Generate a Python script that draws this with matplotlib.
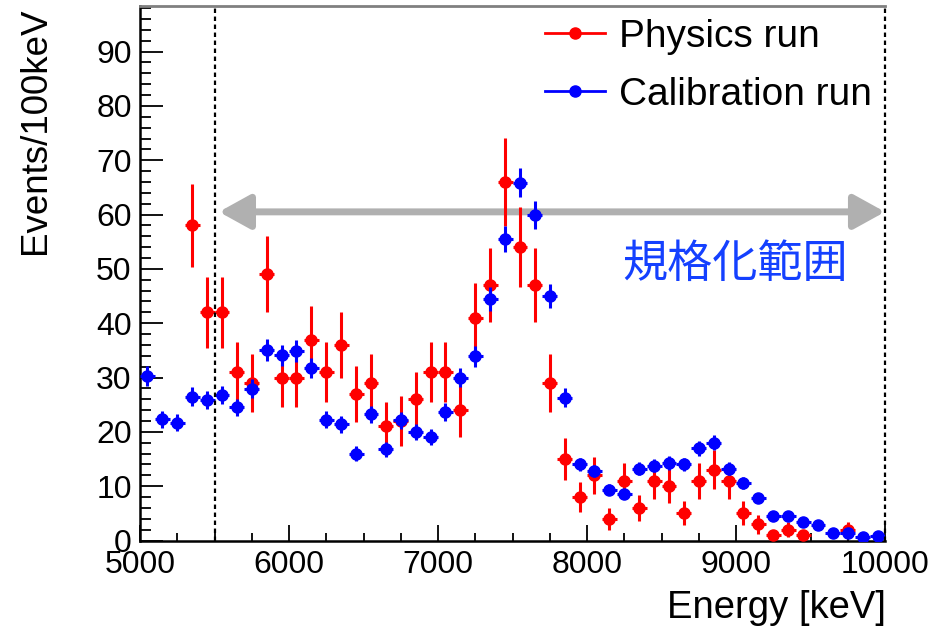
import numpy as np
import matplotlib.pyplot as plt
from matplotlib.lines import Line2D
from matplotlib.ticker import MultipleLocator

plt.rcParams['font.family'] = ['Liberation Sans', 'Noto Sans CJK JP']

# physics run: raw counts per 100 keV bin (bin centres in keV)
phys_e = [5350, 5450, 5550, 5650, 5750, 5850, 5950, 6050, 6150, 6250,
          6350, 6450, 6550, 6650, 6750, 6850, 6950, 7050, 7150, 7250,
          7350, 7450, 7550, 7650, 7750, 7850, 7950, 8050, 8150, 8250,
          8350, 8450, 8550, 8650, 8750, 8850, 8950, 9050, 9150, 9250,
          9350, 9450, 9750]
phys_n = [58, 42, 42, 31, 29, 49, 30, 30, 37, 31,
          36, 27, 29, 21, 22, 26, 31, 31, 24, 41,
          47, 66, 54, 47, 29, 15, 8, 12, 4, 11,
          6, 11, 10, 5, 11, 13, 11, 5, 3, 1,
          2, 1, 2]

# calibration run, scaled to the physics run
calib_e = [5050, 5150, 5250, 5350, 5450, 5550, 5650, 5750, 5850, 5950,
           6050, 6150, 6250, 6350, 6450, 6550, 6650, 6750, 6850, 6950,
           7050, 7150, 7250, 7350, 7450, 7550, 7650, 7750, 7850, 7950,
           8050, 8150, 8250, 8350, 8450, 8550, 8650, 8750, 8850, 8950,
           9050, 9150, 9250, 9350, 9450, 9550, 9650, 9750, 9850, 9950]
calib_n = [30.3, 22.3, 21.7, 26.5, 25.9, 26.8, 24.5, 27.9, 35.1, 34.1,
           34.9, 31.7, 22.2, 21.4, 16.0, 23.2, 16.8, 22.1, 20.0, 19.1,
           23.7, 30.0, 33.9, 44.5, 55.5, 65.9, 60.0, 45.0, 26.3, 14.0,
           12.8, 9.3, 8.6, 13.2, 13.8, 14.3, 14.0, 17.0, 18.0, 13.2,
           10.6, 7.9, 4.6, 4.5, 3.4, 2.8, 1.4, 1.4, 0.7, 0.9]
calib_scale = 0.11

bin_width = 100
norm_lo, norm_hi = 5500, 10000

phys_err = np.sqrt(phys_n)
calib_err = np.sqrt(np.array(calib_n) * calib_scale)

fig = plt.figure(figsize=(9.51, 6.28), dpi=100)
ax = fig.add_axes([140/951, 1 - 540.5/628, 745/951, 534.5/628])

ax.errorbar(phys_e, phys_n, xerr=bin_width/2, yerr=phys_err, fmt='o', color='red',
            ms=8, elinewidth=2.2, capsize=0, zorder=3)
ax.errorbar(calib_e, calib_n, xerr=bin_width/2, yerr=calib_err, fmt='o', color='blue',
            ms=8, elinewidth=2.2, capsize=0, zorder=4)

# normalisation range
for xv in [norm_lo, norm_hi]:
    ax.axvline(xv, color='black', lw=1.6, ls=(0, (2, 1.6)), zorder=5, clip_on=False)
ax.annotate('', xy=(norm_hi, 60.5), xytext=(5530, 60.5),
            arrowprops=dict(arrowstyle='<|-|>,head_length=1.9,head_width=1.05',
                            mutation_scale=10, lw=5, color='#b0b0b0',
                            shrinkA=0, shrinkB=0), zorder=2)
ax.text(8993, 50.9, '規格化範囲', color='#1440ff', fontsize=32.5,
        family=['Noto Sans CJK JP'], ha='center', va='center')

ax.set_xlim(5000, 10000)
ax.set_ylim(0, 98.4)
ax.xaxis.set_major_locator(MultipleLocator(1000))
ax.xaxis.set_minor_locator(MultipleLocator(250))
ax.yaxis.set_major_locator(MultipleLocator(10))
ax.yaxis.set_minor_locator(MultipleLocator(2))
ax.tick_params(which='both', direction='in', labelsize=23, width=1.3)
ax.tick_params(axis='x', which='major', length=11.5, pad=7)
ax.tick_params(axis='x', which='minor', length=6)
ax.tick_params(axis='y', which='major', length=16.5, pad=6)
ax.tick_params(axis='y', which='minor', length=8)
for s in ['left', 'bottom']:
    ax.spines[s].set_linewidth(1.8)
ax.spines['right'].set_visible(False)
ax.spines['top'].set_color('#808080')
ax.spines['top'].set_linewidth(2)

fig.text(36/951, 1 - 7/628, 'Events/100keV', rotation=90, fontsize=26.5,
         ha='center', va='top')
fig.text(886/951, 1 - 618/628, 'Energy [keV]', fontsize=27.5,
         ha='right', va='baseline')

handles = [Line2D([], [], color='red', lw=2, marker='o', ms=8),
           Line2D([], [], color='blue', lw=2, marker='o', ms=8)]
ax.legend(handles, ['Physics run', 'Calibration run'], frameon=False,
          fontsize=28, loc='upper left', bbox_to_anchor=(545/951, 1 - 19/628),
          bbox_transform=fig.transFigure, borderpad=0, borderaxespad=0,
          handlelength=1.55, handletextpad=0.36, labelspacing=0.56)

fig.savefig('out.png', dpi=100)
